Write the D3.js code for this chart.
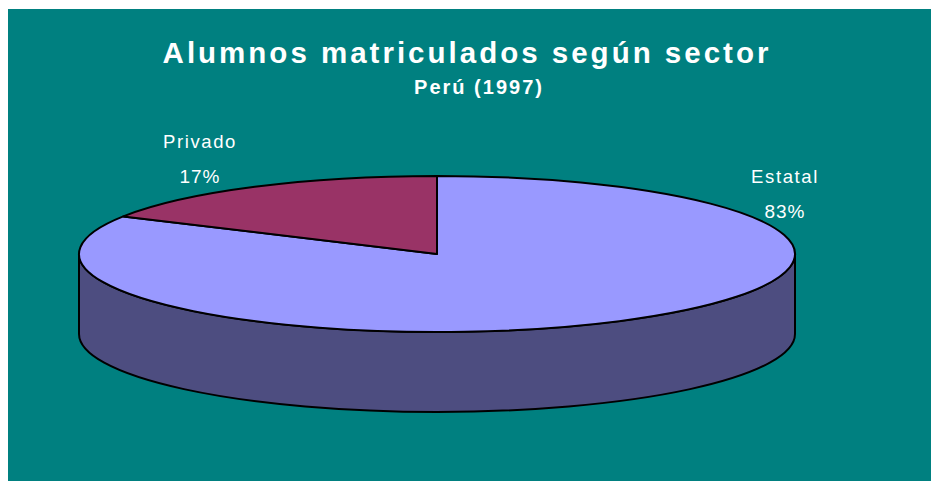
<!DOCTYPE html>
<html lang="es">
<head>
<meta charset="utf-8">
<title>Alumnos matriculados</title>
<script src="https://d3js.org/d3.v7.min.js"></script>
<style>
  body { margin: 0; background: #fff; }
  text { font-family: "Liberation Sans", Arial, sans-serif; fill: #fff; }
</style>
</head>
<body>
<svg width="931" height="481"></svg>
<script>
// datos
var sectores = ["Estatal", "Privado"];
var valores = [83, 17];
var etiquetas = ["83%", "17%"];
var colores = ["#9999ff", "#993366"];
var colorLado = "#4d4d80";

var svg = d3.select("svg");

svg.append("rect")
  .attr("x", 8).attr("y", 9)
  .attr("width", 923).attr("height", 472)
  .attr("fill", "#008080");

svg.append("text")
  .attr("x", 467).attr("y", 63)
  .attr("text-anchor", "middle")
  .style("font-size", "29.5px").style("font-weight", "bold")
  .style("letter-spacing", "3px")
  .text("Alumnos matriculados según sector");

svg.append("text")
  .attr("x", 479).attr("y", 94)
  .attr("text-anchor", "middle")
  .style("font-size", "20px").style("font-weight", "bold")
  .style("letter-spacing", "2px")
  .text("Perú (1997)");

// geometria del pastel 3D
var cx = 437, cy = 254, rx = 358, ry = 78, alto = 80;

function punto(a, dy) {
  return [cx + rx * Math.sin(a), cy - ry * Math.cos(a) + (dy || 0)];
}

var pie = d3.pie().sort(null).value(function(d) { return d; });
var arcos = pie(valores);

// lado frontal visible (de PI/2 a 3PI/2)
var a0 = Math.PI / 2, a1 = 3 * Math.PI / 2;
var p0 = punto(a0), p1 = punto(a1), q0 = punto(a0, alto), q1 = punto(a1, alto);
svg.append("path")
  .attr("d", "M" + p0 + " A" + rx + "," + ry + " 0 0 1 " + p1 +
    " L" + q1 + " A" + rx + "," + ry + " 0 0 0 " + q0 + " Z")
  .attr("fill", colorLado)
  .attr("stroke", "#000").attr("stroke-width", 2)
  .attr("stroke-linejoin", "round");

// cara superior
svg.selectAll(".rebanada")
  .data(arcos)
  .enter().append("path")
  .attr("class", "rebanada")
  .attr("d", function(d) {
    var s = punto(d.startAngle), e = punto(d.endAngle);
    var grande = (d.endAngle - d.startAngle) > Math.PI ? 1 : 0;
    return "M" + cx + "," + cy + " L" + s + " A" + rx + "," + ry + " 0 " + grande + " 1 " + e + " Z";
  })
  .attr("fill", function(d, i) { return colores[i]; })
  .attr("stroke", "#000").attr("stroke-width", 2)
  .attr("stroke-linejoin", "round");

// etiquetas
var posEtiq = [[785, 218], [200, 183]];
arcos.forEach(function(d, i) {
  var g = svg.append("g");
  g.append("text")
    .attr("x", posEtiq[i][0]).attr("y", posEtiq[i][1] - 35)
    .attr("text-anchor", "middle")
    .style("font-size", "18.5px").style("letter-spacing", "1.6px")
    .text(sectores[i]);
  g.append("text")
    .attr("x", posEtiq[i][0]).attr("y", posEtiq[i][1])
    .attr("text-anchor", "middle")
    .style("font-size", "19px").style("letter-spacing", "1px")
    .text(etiquetas[i]);
});
</script>
</body>
</html>
